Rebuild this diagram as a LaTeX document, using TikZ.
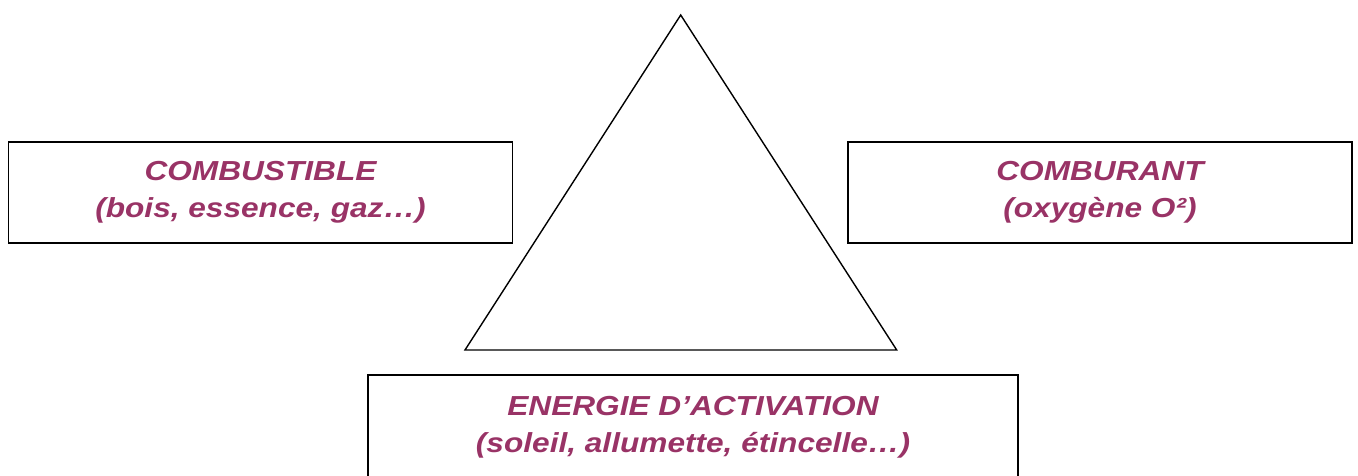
\documentclass[tikz,border=0pt]{standalone}
\usepackage{fontspec}
\newfontfamily\boxfont[FakeStretch=1.15]{Liberation Sans}
\usepackage{xcolor}
\definecolor{plum}{RGB}{153,51,102}

\begin{document}
\begin{tikzpicture}[
    x=1pt, y=-1pt,
    box/.style={draw=black, line width=1.6pt, inner sep=0pt, align=center,
        text=plum, font=\fontsize{27.5}{37}\boxfont\bfseries\itshape},
    sidebox/.style={box, minimum width=504pt, minimum height=101pt},
    fireline/.style={black, line width=1.4pt}
]
\useasboundingbox (0,0) rectangle (1358,475);
\clip (0,0) rectangle (1358,475);

% the fire triangle
\coordinate (apex) at (680.7,15);
\coordinate (baseL) at (465,350);
\coordinate (baseR) at (896.7,350);
\draw[fireline] (baseL) -- (apex) -- (baseR) -- cycle;

% the three sides
\node[sidebox] (fuel) at (260.5,192.5) {COMBUSTIBLE\\(bois, essence, gaz…)};
\node[sidebox] (oxidant) at (1100,192.5) {COMBURANT\\(oxygène O²)};
\node[box, minimum width=650pt, minimum height=104pt] (energy) at (693,427)
    {ENERGIE D’ACTIVATION\\(soleil, allumette, étincelle…)};

\end{tikzpicture}
\end{document}
